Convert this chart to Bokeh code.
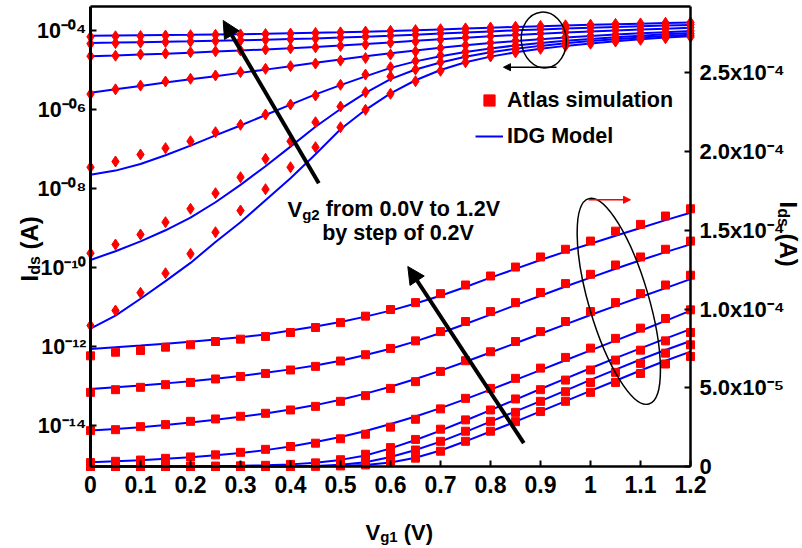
import math
from bokeh.plotting import figure
from bokeh.models import (Range1d, LinearScale, LinearAxis, LogAxis, FixedTicker, CustomJSTickFormatter,
                          Label, Arrow, NormalHead, Legend, LegendItem)
from bokeh.embed import file_html
from bokeh.resources import INLINE

# ---------------- data ----------------
vg1 = [0.0, 0.05, 0.1, 0.15, 0.2, 0.25, 0.3, 0.35, 0.4, 0.45, 0.5, 0.55, 0.6,
       0.65, 0.7, 0.75, 0.8, 0.85, 0.9, 0.95, 1.0, 1.05, 1.1, 1.15, 1.2]

# Atlas simulation, Ids (A), one list per Vg2
atlas_vg2_0_0 = [3.46e-12, 8.30e-12, 2.33e-11, 7.29e-11, 2.26e-10, 7.96e-10, 2.82e-9, 9.77e-9, 3.52e-8,
                 1.13e-7, 3.62e-7, 1.00e-6, 2.54e-6, 5.3e-6, 9.7e-6, 1.60e-5, 2.24e-5, 2.85e-5, 3.49e-5,
                 4.14e-5, 4.71e-5, 5.34e-5, 5.91e-5, 6.51e-5, 6.99e-5]
atlas_vg2_0_2 = [2.34e-10, 3.89e-10, 6.97e-10, 1.43e-9, 3.12e-9, 7.74e-9, 1.97e-8, 5.74e-8, 1.60e-7,
                 4.85e-7, 1.21e-6, 2.79e-6, 7.0e-6, 1.05e-5, 1.60e-5, 2.24e-5, 2.87e-5, 3.44e-5, 4.14e-5,
                 4.75e-5, 5.34e-5, 5.98e-5, 6.55e-5, 7.20e-5, 7.73e-5]
atlas_vg2_0_4 = [3.52e-8, 4.91e-8, 7.38e-8, 1.07e-7, 1.60e-7, 2.71e-7, 4.17e-7, 7.60e-7, 1.36e-6,
                 2.30e-6, 4.3e-6, 7.8e-6, 1.20e-5, 1.72e-5, 2.37e-5, 2.96e-5, 3.59e-5, 4.29e-5, 4.88e-5,
                 5.49e-5, 6.13e-5, 6.76e-5, 7.39e-5, 7.98e-5, 8.51e-5]
atlas_vg2_0_6 = [2.5e-6, 3.3e-6, 4.1e-6, 5.2e-6, 6.1e-6, 7.4e-6, 9.0e-6, 1.09e-5, 1.27e-5,
                 1.48e-5, 1.76e-5, 2.05e-5, 2.50e-5, 3.00e-5, 3.66e-5, 4.33e-5, 4.96e-5, 5.60e-5, 6.25e-5,
                 6.93e-5, 7.52e-5, 8.14e-5, 8.79e-5, 9.40e-5, 9.95e-5]
atlas_vg2_0_8 = [2.28e-5, 2.34e-5, 2.53e-5, 2.66e-5, 2.87e-5, 3.02e-5, 3.19e-5, 3.38e-5, 3.59e-5,
                 3.82e-5, 4.14e-5, 4.50e-5, 4.96e-5, 5.39e-5, 6.04e-5, 6.72e-5, 7.29e-5, 7.94e-5, 8.57e-5,
                 9.21e-5, 9.84e-5, 1.041e-4, 1.098e-4, 1.153e-4, 1.215e-4]
atlas_vg2_1_0 = [4.71e-5, 4.88e-5, 5.03e-5, 5.20e-5, 5.34e-5, 5.56e-5, 5.72e-5, 5.91e-5, 6.13e-5,
                 6.36e-5, 6.70e-5, 7.10e-5, 7.50e-5, 7.98e-5, 8.57e-5, 9.21e-5, 9.84e-5, 1.041e-4, 1.105e-4,
                 1.162e-4, 1.221e-4, 1.280e-4, 1.331e-4, 1.380e-4, 1.432e-4]
atlas_vg2_1_2 = [7.03e-5, 7.26e-5, 7.37e-5, 7.58e-5, 7.73e-5, 7.94e-5, 8.09e-5, 8.26e-5, 8.51e-5,
                 8.83e-5, 9.14e-5, 9.55e-5, 9.97e-5, 1.041e-4, 1.098e-4, 1.153e-4, 1.210e-4, 1.267e-4, 1.331e-4,
                 1.380e-4, 1.432e-4, 1.495e-4, 1.538e-4, 1.591e-4, 1.637e-4]

# IDG model, Ids (A), one list per Vg2
idg_vg2_0_0 = [2.88e-12, 6.15e-12, 1.65e-11, 4.60e-11, 1.33e-10, 4.48e-10, 1.42e-9, 5.13e-9, 1.85e-8,
               7.46e-8, 3.23e-7, 1.00e-6, 2.60e-6, 5.6e-6, 1.02e-5, 1.60e-5, 2.22e-5, 2.85e-5, 3.50e-5,
               4.15e-5, 4.80e-5, 5.45e-5, 6.10e-5, 6.72e-5, 7.30e-5]
idg_vg2_0_2 = [1.58e-10, 2.63e-10, 4.68e-10, 8.91e-10, 1.86e-9, 4.57e-9, 1.26e-8, 3.72e-8, 1.17e-7,
               3.72e-7, 1.05e-6, 2.69e-6, 6.0e-6, 1.05e-5, 1.58e-5, 2.20e-5, 2.85e-5, 3.50e-5, 4.15e-5,
               4.82e-5, 5.50e-5, 6.15e-5, 6.80e-5, 7.40e-5, 7.97e-5]
idg_vg2_0_4 = [2.27e-8, 2.89e-8, 4.25e-8, 7.07e-8, 1.24e-7, 2.25e-7, 4.00e-7, 7.40e-7, 1.35e-6,
               2.45e-6, 4.2e-6, 7.0e-6, 1.15e-5, 1.68e-5, 2.28e-5, 2.92e-5, 3.58e-5, 4.25e-5, 4.92e-5,
               5.58e-5, 6.24e-5, 6.88e-5, 7.50e-5, 8.12e-5, 8.73e-5]
idg_vg2_0_6 = [2.7e-6, 3.3e-6, 4.0e-6, 4.9e-6, 5.9e-6, 7.1e-6, 8.6e-6, 1.04e-5, 1.27e-5,
               1.55e-5, 1.88e-5, 2.26e-5, 2.70e-5, 3.18e-5, 3.71e-5, 4.28e-5, 4.88e-5, 5.50e-5, 6.12e-5,
               6.75e-5, 7.38e-5, 8.00e-5, 8.62e-5, 9.25e-5, 9.90e-5]
idg_vg2_0_8 = [2.28e-5, 2.38e-5, 2.50e-5, 2.63e-5, 2.80e-5, 2.97e-5, 3.16e-5, 3.37e-5, 3.62e-5,
               3.90e-5, 4.24e-5, 4.63e-5, 5.07e-5, 5.56e-5, 6.09e-5, 6.65e-5, 7.24e-5, 7.83e-5, 8.43e-5,
               9.03e-5, 9.62e-5, 1.020e-4, 1.077e-4, 1.133e-4, 1.190e-4]
idg_vg2_1_0 = [4.92e-5, 5.03e-5, 5.15e-5, 5.28e-5, 5.42e-5, 5.58e-5, 5.75e-5, 5.95e-5, 6.17e-5,
               6.42e-5, 6.72e-5, 7.08e-5, 7.48e-5, 7.95e-5, 8.48e-5, 9.05e-5, 9.65e-5, 1.025e-4, 1.085e-4,
               1.143e-4, 1.200e-4, 1.256e-4, 1.310e-4, 1.362e-4, 1.411e-4]
idg_vg2_1_2 = [7.46e-5, 7.57e-5, 7.68e-5, 7.80e-5, 7.92e-5, 8.06e-5, 8.21e-5, 8.38e-5, 8.64e-5,
               8.90e-5, 9.18e-5, 9.52e-5, 9.90e-5, 1.035e-4, 1.085e-4, 1.140e-4, 1.200e-4, 1.255e-4, 1.312e-4,
               1.365e-4, 1.415e-4, 1.466e-4, 1.515e-4, 1.565e-4, 1.612e-4]

atlas_series = [atlas_vg2_0_0, atlas_vg2_0_2, atlas_vg2_0_4, atlas_vg2_0_6,
                atlas_vg2_0_8, atlas_vg2_1_0, atlas_vg2_1_2]
idg_series = [idg_vg2_0_0, idg_vg2_0_2, idg_vg2_0_4, idg_vg2_0_6,
              idg_vg2_0_8, idg_vg2_1_0, idg_vg2_1_2]

x_ticks = [0.0, 0.1, 0.2, 0.3, 0.4, 0.5, 0.6, 0.7, 0.8, 0.9, 1.0, 1.1, 1.2]
x_tick_labels = ["0", "0.1", "0.2", "0.3", "0.4", "0.5", "0.6", "0.7", "0.8", "0.9", "1", "1.1", "1.2"]
log_ticks = [1e-4, 1e-6, 1e-8, 1e-10, 1e-12, 1e-14]
log_tick_labels = ["10\u207b\u2070\u2074", "10\u207b\u2070\u2076", "10\u207b\u2070\u2078",
                   "10\u207b\u00b9\u2070", "10\u207b\u00b9\u00b2", "10\u207b\u00b9\u2074"]
lin_ticks = [0.0, 5e-5, 1e-4, 1.5e-4, 2e-4, 2.5e-4]
lin_tick_labels = ["0", "5.0x10\u207b\u2075", "1.0x10\u207b\u2074", "1.5x10\u207b\u2074",
                   "2.0x10\u207b\u2074", "2.5x10\u207b\u2074"]

# ---------------- geometry / style ----------------
W, H = 802, 548
BOX_L, BOX_R, BOX_T, BOX_B = 90, 690, 6, 466          # pixel box of the axes
X_LO, X_HI = 0.0, 1.2                                 # Vg1 span of the box
LOGY_LO, LOGY_HI = -15.03, -3.385                     # log10(Ids) span of the box (left axis)
LIN_LO, LIN_HI = 0.0, 2.922e-4                        # Ids span of the box (right axis)

xpp = (X_HI - X_LO) / (BOX_R - BOX_L)
lgpp = (LOGY_HI - LOGY_LO) / (BOX_B - BOX_T)
lnpp = (LIN_HI - LIN_LO) / (BOX_B - BOX_T)
X_START, X_END = X_LO - BOX_L * xpp, X_HI + (W - BOX_R) * xpp
LOG_START, LOG_END = 10 ** (LOGY_LO - (H - BOX_B) * lgpp), 10 ** (LOGY_HI + BOX_T * lgpp)
LIN_START, LIN_END = LIN_LO - (H - BOX_B) * lnpp, LIN_HI + BOX_T * lnpp

RED = "#ff0000"
BLUE = "#0000ff"
FONT = "Liberation Sans"

p = figure(width=W, height=H, output_backend="svg", toolbar_location=None,
           x_range=Range1d(X_START, X_END), y_range=Range1d(LOG_START, LOG_END),
           y_axis_type="log", x_axis_location=None, y_axis_location=None,
           min_border_left=0, min_border_right=0, min_border_top=0, min_border_bottom=0)
p.extra_y_ranges = {"lin": Range1d(LIN_START, LIN_END)}
p.extra_y_scales = {"lin": LinearScale()}
p.xgrid.visible = False
p.ygrid.visible = False
p.outline_line_color = None
p.background_fill_color = "white"
p.border_fill_color = "white"

FMT_CODE = """
for (let i = 0; i < tick_vals.length; i++) {
  const t = tick_vals[i];
  if (tick === t || Math.abs(tick - t) <= 1e-6 * Math.abs(t)) return tick_text[i];
}
return "";
"""


def fmt(vals, texts):
    return CustomJSTickFormatter(args=dict(tick_vals=vals, tick_text=texts), code=FMT_CODE)


def style_axis(ax, size, standoff):
    ax.major_label_text_font = FONT
    ax.major_label_text_font_style = "bold"
    ax.major_label_text_font_size = size
    ax.major_label_text_color = "black"
    ax.major_tick_in = 6
    ax.major_tick_out = 0
    ax.major_tick_line_width = 2
    ax.major_tick_line_color = "black"
    ax.minor_tick_line_color = None
    ax.axis_line_width = 2.5
    ax.axis_line_color = "black"
    ax.major_label_standoff = standoff


# bottom axis (Vg1)
xa = LinearAxis(y_range_name="lin", fixed_location=LIN_LO, bounds=(X_LO, X_HI),
                ticker=FixedTicker(ticks=x_ticks), formatter=fmt(x_ticks, x_tick_labels))
style_axis(xa, "23px", 9)
p.add_layout(xa, "below")

# top border
ta = LinearAxis(y_range_name="lin", fixed_location=LIN_HI, bounds=(X_LO, X_HI),
                ticker=FixedTicker(ticks=[]))
style_axis(ta, "1px", 0)
p.add_layout(ta, "above")

# left log axis
ya = LogAxis(fixed_location=X_LO, bounds=(10 ** LOGY_LO, 10 ** LOGY_HI),
             ticker=FixedTicker(ticks=log_ticks), formatter=fmt(log_ticks, log_tick_labels))
style_axis(ya, "21.5px", 4)
ya.axis_line_width = 3
p.add_layout(ya, "left")

# right linear axis
ra = LinearAxis(y_range_name="lin", fixed_location=X_HI, bounds=(LIN_LO, LIN_HI),
                ticker=FixedTicker(ticks=lin_ticks), formatter=fmt(lin_ticks, lin_tick_labels))
style_axis(ra, "22px", 9)
p.add_layout(ra, "right")

# ---------------- curves ----------------
line_r = None
for m in idg_series:
    line_r = p.line(vg1, m, line_color=BLUE, line_width=2)
    p.line(vg1, m, line_color=BLUE, line_width=2, y_range_name="lin")
sq_r = None
for s in atlas_series:
    p.scatter(vg1, s, marker="diamond", size=11, fill_color=RED, line_color=RED)
    sq_r = p.scatter(vg1, s, marker="square", size=8, fill_color=RED, line_color=RED, y_range_name="lin")

legend = Legend(items=[LegendItem(label="Atlas simulation", renderers=[sq_r]),
                       LegendItem(label="IDG Model", renderers=[line_r])],
                location=(475, H - 150), glyph_width=28, glyph_height=28, spacing=8, padding=0, margin=0,
                label_standoff=4, border_line_alpha=0, background_fill_alpha=0,
                label_text_font=FONT, label_text_font_style="bold", label_text_font_size="21.5px",
                label_text_color="black")
p.add_layout(legend)


# ---------------- annotations (pixel positions -> data coordinates) ----------------
def data_x(px):
    return X_START + px * xpp


def data_y(py):
    return LIN_END - py * lnpp


ADV = {'I': .278, 'd': .611, 's': .556, ' ': .278, '(': .333, 'A': .722, ')': .333,
       'V': .667, 'g': .611, '1': .556, '2': .556}


def text_width(t, size):
    return sum(ADV.get(c, .556) for c in t) * size


def rich_text(parts, px, py, angle=0.0):
    ca, sa = math.cos(angle), math.sin(angle)
    adv = 0.0
    for t, size, drop in parts:
        lead = len(t) - len(t.lstrip(" "))
        adv += lead * ADV[" "] * size
        t = t.lstrip(" ")
        x = px + adv * ca + drop * sa
        y = py - adv * sa + drop * ca
        p.add_layout(Label(x=data_x(x), y=data_y(y), y_range_name="lin", text=t, angle=angle,
                           text_font=FONT, text_font_style="bold", text_font_size=f"{size}px",
                           text_color="black", text_align="left", text_baseline="alphabetic"))
        adv += text_width(t, size)


# axis titles
rich_text([("V", 22, 0), ("g1", 15, 4), (" (V)", 22, 0)], 365, 532)
rich_text([("I", 24, 0), ("ds", 16, 5), (" (A)", 24, 0)], 29, 281, angle=math.pi / 2)
rich_text([("I", 24, 0), ("ds", 16, 5), (" (A)", 24, 0)], 788, 201, angle=-math.pi / 2)

# Vg2 note
rich_text([("V", 22, 0), ("g2", 15, 5), (" from 0.0V to 1.2V", 21.5, 0)], 287, 208.5)
p.add_layout(Label(x=data_x(397.5), y=data_y(232), y_range_name="lin", text="by step of 0.2V",
                   text_font=FONT, text_font_style="bold", text_font_size="21.5px", text_color="black",
                   text_align="center", text_baseline="alphabetic"))

# big black arrows
for (x0, y0, x1, y1) in [(318.3, 182.7, 222.7, 20.0), (523.3, 442.7, 407.3, 266.0)]:
    p.add_layout(Arrow(end=NormalHead(size=17, fill_color="black", line_color="black", line_width=1),
                       x_start=data_x(x0), y_start=data_y(y0), x_end=data_x(x1), y_end=data_y(y1),
                       line_color="black", line_width=4, y_range_name="lin"))

# ellipses
p.ellipse(x=[data_x(543.3)], y=[data_y(39.5)], width=45, height=56, angle=0.1,
          width_units="screen", height_units="screen",
          fill_color=None, line_color="black", line_width=1.5, y_range_name="lin")
p.ellipse(x=[data_x(618.3)], y=[data_y(300.8)], width=60, height=214, angle=0.285,
          width_units="screen", height_units="screen",
          fill_color=None, line_color="black", line_width=1.5, y_range_name="lin")

# small pointer arrows
p.add_layout(Arrow(end=NormalHead(size=7, fill_color="black", line_color="black", line_width=1),
                   x_start=data_x(556), y_start=data_y(66.7), x_end=data_x(503), y_end=data_y(66.7),
                   line_color="black", line_width=1.5, y_range_name="lin"))
p.add_layout(Arrow(end=NormalHead(size=7, fill_color=RED, line_color=RED, line_width=1),
                   x_start=data_x(588), y_start=data_y(199.3), x_end=data_x(630), y_end=data_y(199.3),
                   line_color=RED, line_width=1.5, y_range_name="lin"))

open("out.html", "w").write(file_html(p, INLINE))
